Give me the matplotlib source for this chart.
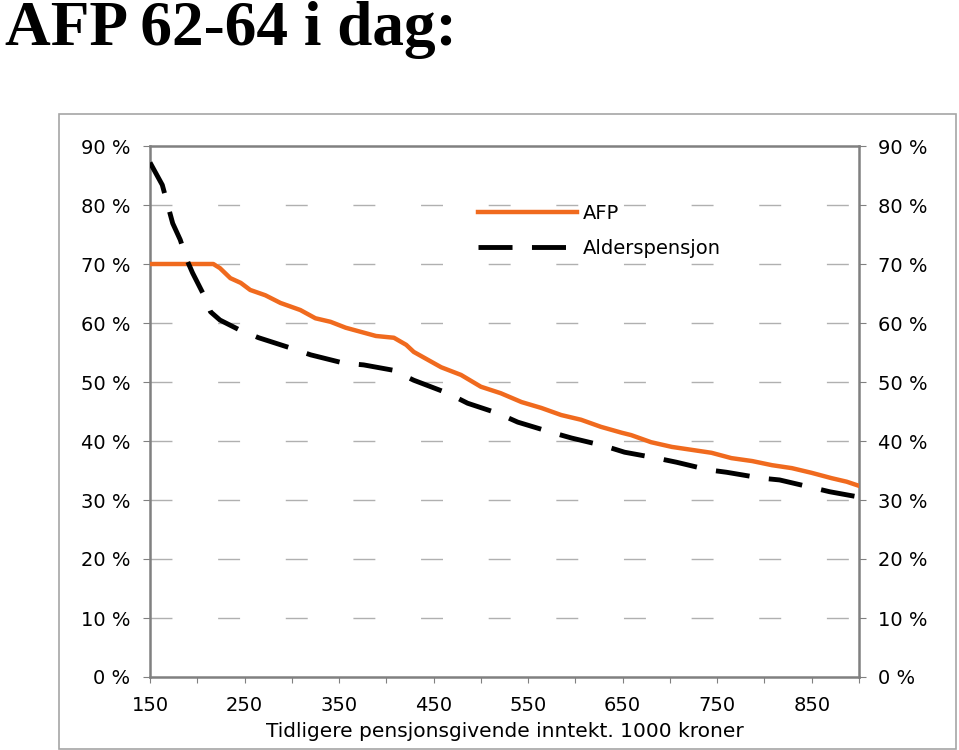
import matplotlib
matplotlib.use('Agg')
import matplotlib.pyplot as plt
from matplotlib.patches import Rectangle

# Data (inntekt i 1000 kr, kompensasjonsgrad i %)
afp_x = [150, 217, 224, 235, 246, 256, 272, 288, 309, 325, 341, 357, 373, 389, 408, 421,
         429, 458, 479, 500, 521, 543, 564, 585, 606, 627, 649, 659, 680, 702, 723, 744,
         765, 787, 808, 829, 850, 871, 887, 900]
afp_y = [70.0, 70.0, 69.3, 67.6, 66.8, 65.6, 64.7, 63.4, 62.2, 60.8, 60.2, 59.2, 58.5, 57.8,
         57.5, 56.3, 55.1, 52.5, 51.2, 49.2, 48.1, 46.6, 45.6, 44.4, 43.6, 42.4, 41.4, 41.0,
         39.8, 39.0, 38.5, 38.0, 37.1, 36.6, 35.9, 35.4, 34.6, 33.7, 33.1, 32.4]

ap_x = [150, 163, 174, 182, 189, 195, 208, 214, 224, 245, 265, 298, 320, 355, 376, 407,
        429, 465, 486, 518, 539, 574, 596, 630, 652, 686, 707, 741, 760, 797, 816, 848,
        869, 900]
ap_y = [87.2, 83.4, 76.9, 74.1, 70.7, 68.5, 64.4, 61.9, 60.5, 58.8, 57.5, 55.8, 54.6, 53.2,
        52.9, 52.0, 50.3, 48.1, 46.4, 44.7, 43.2, 41.5, 40.5, 39.2, 38.1, 37.1, 36.4, 35.1,
        34.7, 33.7, 33.4, 32.2, 31.4, 30.5]

x_ticks = list(range(150, 901, 50))
x_labels = [str(t) if (t - 150) % 100 == 0 and t < 900 else '' for t in x_ticks]
y_ticks = list(range(0, 91, 10))
y_labels = [f'{t} %' for t in y_ticks]

plt.rcParams['font.family'] = ['DejaVu Sans']
fig = plt.figure(figsize=(9.59, 7.5), dpi=100)

# ramme rundt diagrammet
fig.patches.append(Rectangle((59 / 959, 1 / 750), 897 / 959, 635 / 750, transform=fig.transFigure,
                             fill=False, edgecolor='#a6a6a6', linewidth=1.2))

fig.text(0.005, 0.94, 'AFP 62-64 i dag:', family='Liberation Serif', fontweight='bold',
         fontsize=45.5, va='baseline', ha='left')

ax = fig.add_axes([150 / 959, 73 / 750, 709 / 959, 531 / 750])

for yv in y_ticks[1:-1]:
    ax.axhline(yv, color='#b0b0b0', linewidth=1, linestyle=(0, (15.8, 32.9)), zorder=1)

ax.plot(afp_x, afp_y, color='#F06A1E', linewidth=3.2, label='AFP', zorder=3)
ax.plot(ap_x, ap_y, color='black', linewidth=3.5, linestyle=(0, (7, 4)),
        label='Alderspensjon', zorder=3)

ax.set_xlim(150, 900)
ax.set_ylim(0, 90)
ax.set_xticks(x_ticks)
ax.set_xticklabels(x_labels)
ax.set_yticks(y_ticks)
ax.set_yticklabels(y_labels)

for s in ax.spines.values():
    s.set_color('#808080')
    s.set_linewidth(1.8)

ax.tick_params(axis='y', left=True, right=True, labelleft=True, labelright=True,
               length=5, color='#808080', labelsize=14, pad=9)
ax.tick_params(axis='x', length=4, color='#808080', labelsize=14, pad=10)

ax.set_xlabel('Tidligere pensjonsgivende inntekt. 1000 kroner', fontsize=14.5, labelpad=5)

ax.legend(loc='upper left', bbox_to_anchor=(478 / 959, 1 - 204 / 750),
          bbox_transform=fig.transFigure, frameon=False, fontsize=14,
          handlelength=5.1, handletextpad=0.3, labelspacing=0.82,
          borderpad=0, borderaxespad=0)

plt.savefig('out.png', dpi=100)
plt.close()
